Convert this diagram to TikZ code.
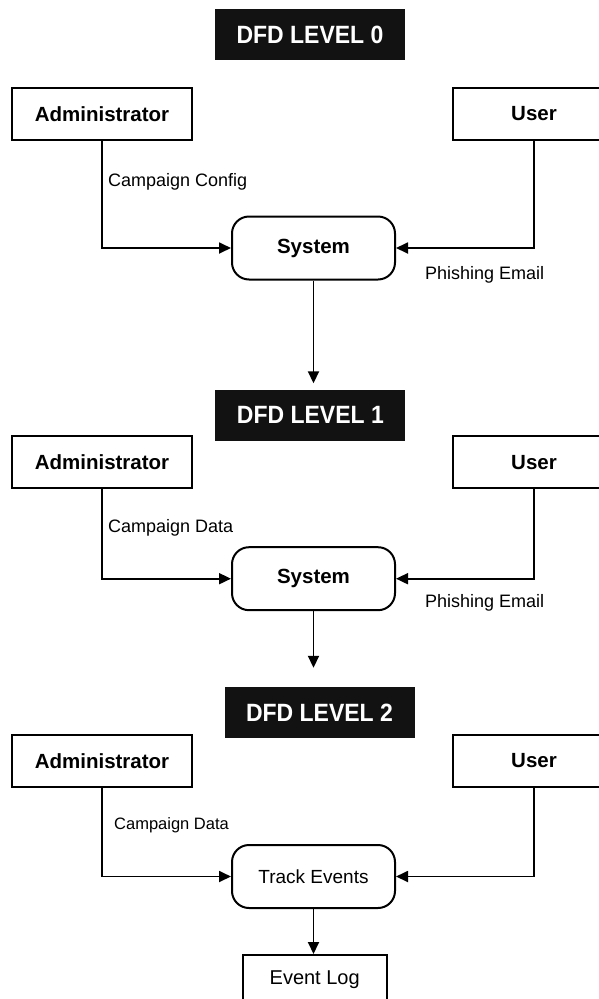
\documentclass[tikz,border=0pt]{standalone}
\usepackage{fontspec}
\setmainfont{Liberation Sans}
\newfontfamily\titlefont{Liberation Sans}[FakeStretch=0.92]
\usetikzlibrary{arrows.meta}

\tikzset{
  title/.style={fill=black!93, text=white, minimum width=190pt, minimum height=51pt,
    inner sep=0pt, font=\titlefont\fontsize{25}{27}\selectfont\bfseries},
  entity/.style={draw, line width=2pt, minimum height=52pt, inner sep=0pt,
    font=\fontsize{20.5}{23}\selectfont\bfseries},
  process/.style={draw, line width=2pt, rounded corners=17pt, minimum width=163pt,
    minimum height=63pt, inner sep=0pt},
  store/.style={draw, line width=2pt, minimum width=144pt, minimum height=50pt, inner sep=0pt,
    font=\fontsize{20}{22}\selectfont},
  flow/.style={line width=1.8pt, -{Triangle[length=12pt,width=11pt]}},
  flowlabel/.style={anchor=west, inner sep=0pt, font=\fontsize{18}{20}\selectfont},
}

\begin{document}
\begin{tikzpicture}[x=1pt, y=-1pt]
\useasboundingbox (0,0) rectangle (599,999);
\clip (0,0) rectangle (599,999);
\fill[white] (0,0) rectangle (599,999);

% ---------- Level 0 ----------
\node[title] (t0) at (310,34.7) {DFD LEVEL 0};
\node[entity, minimum width=180pt] (a0) at (102,113.9) {Administrator};
\node[entity, minimum width=162pt] (u0) at (534,113.9) {User};
\node[process, font=\fontsize{20.5}{23}\selectfont\bfseries] (s0) at (313.5,248) {System};
\draw[flow] (a0.south) |- (s0.west);
\draw[flow] (u0.south) |- (s0.east);
\node[flowlabel] (l0a) at (108,182) {Campaign Config};
\node[flowlabel] (l0b) at (425,275) {Phishing Email};

% ---------- Level 1 ----------
\node[title] (t1) at (310.4,415) {DFD LEVEL 1};
\draw[flow, shorten >=6pt] (s0.south) -- (s0.south |- t1.north);
\node[entity, minimum width=180pt] (a1) at (102,462.3) {Administrator};
\node[entity, minimum width=162pt] (u1) at (534,462.3) {User};
\node[process, font=\fontsize{20.5}{23}\selectfont\bfseries] (s1) at (313.5,578.7) {System};
\draw[flow] (a1.south) |- (s1.west);
\draw[flow] (u1.south) |- (s1.east);
\node[flowlabel] (l1a) at (108,528) {Campaign Data};
\node[flowlabel] (l1b) at (425,603) {Phishing Email};

% ---------- Level 2 ----------
\node[title] (t2) at (319.5,712.5) {DFD LEVEL 2};
\draw[flow, shorten >=19pt] (s1.south) -- (s1.south |- t2.north);
\node[entity, minimum width=180pt] (a2) at (102,760.8) {Administrator};
\node[entity, minimum width=162pt] (u2) at (534,760.8) {User};
\node[process, font=\fontsize{19}{21}\selectfont] (p2) at (313.5,876.5) {Track Events};
\draw[flow] (a2.south) |- (p2.west);
\draw[flow] (u2.south) |- (p2.east);
\node[flowlabel, font=\fontsize{16.5}{18}\selectfont] (l2a) at (114,825.7) {Campaign Data};
\node[store] (e2) at (314.7,980) {Event Log};
\draw[flow] (p2.south) -- (p2.south |- e2.north);
\end{tikzpicture}
\end{document}
